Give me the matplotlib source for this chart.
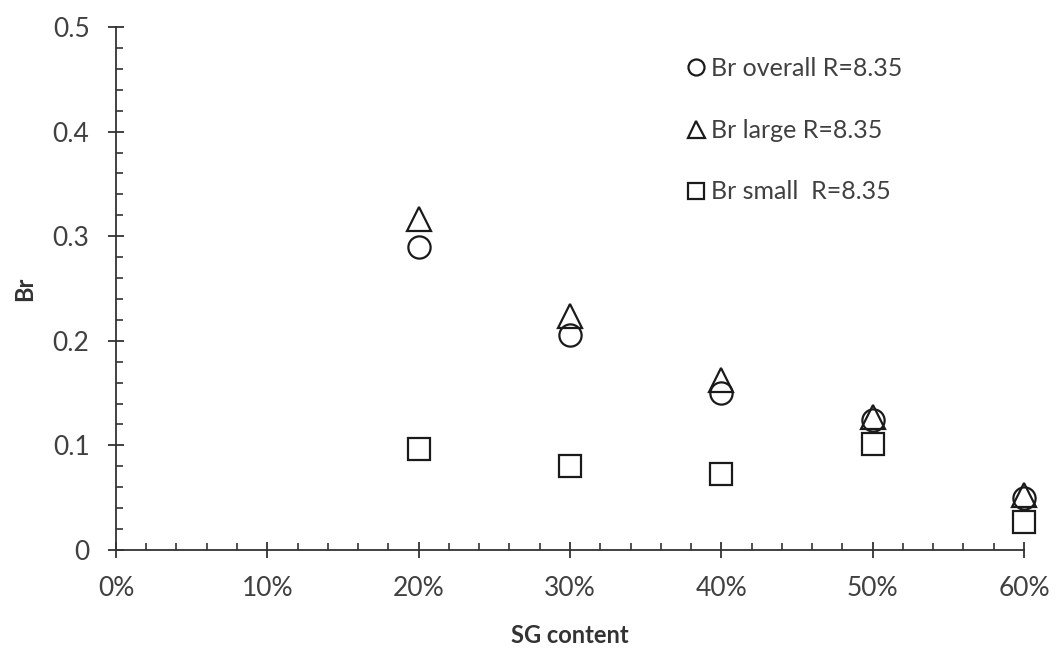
import matplotlib
matplotlib.use("Agg")
import matplotlib.pyplot as plt
from matplotlib.ticker import MultipleLocator, FuncFormatter

plt.rcParams['font.family'] = ['Lato', 'DejaVu Sans']

sg_content = [0.20, 0.30, 0.40, 0.50, 0.60]
br_overall = [0.290, 0.206, 0.150, 0.124, 0.050]
br_large = [0.316, 0.224, 0.163, 0.127, 0.053]
br_small = [0.097, 0.080, 0.073, 0.101, 0.027]
labels = ["Br overall R=8.35", "Br large R=8.35", "Br small  R=8.35"]

fig = plt.figure(figsize=(10.57, 6.5), dpi=100)
ax = fig.add_axes([0.1097, 0.1538, 0.8591, 0.8047])

ec = '#1a1a1a'
kw = dict(linestyle='none', markerfacecolor='none', markeredgecolor=ec, markeredgewidth=1.6,
          clip_on=False)
ax.plot(sg_content, br_large, marker='^', markersize=17, label=labels[1], zorder=3, **kw)
ax.plot(sg_content, br_overall, marker='o', markersize=16, label=labels[0], zorder=4, **kw)
ax.plot(sg_content, br_small, marker='s', markersize=16, label=labels[2], zorder=3, **kw)

ax.set_xlim(0, 0.6)
ax.set_ylim(0, 0.5)
ax.spines['top'].set_visible(False)
ax.spines['right'].set_visible(False)
for s in ['left', 'bottom']:
    ax.spines[s].set_linewidth(1.3)
    ax.spines[s].set_color('#333333')

ax.xaxis.set_major_locator(MultipleLocator(0.1))
ax.xaxis.set_minor_locator(MultipleLocator(0.02))
ax.yaxis.set_major_locator(MultipleLocator(0.1))
ax.yaxis.set_minor_locator(MultipleLocator(0.02))
ax.xaxis.set_major_formatter(FuncFormatter(lambda v, p: f"{round(v*100):d}%"))
ax.yaxis.set_major_formatter(FuncFormatter(lambda v, p: "0" if abs(v) < 1e-9 else f"{v:.1f}"))

ax.tick_params(which='major', direction='inout', length=12, width=1.3, color='#333333',
               labelsize=19, labelcolor='#404040')
ax.tick_params(axis='x', which='major', pad=13)
ax.tick_params(axis='y', which='major', pad=13)
ax.tick_params(which='minor', direction='in', length=5, width=1.2, color='#333333')

ax.set_xlabel("SG content", fontsize=17, fontweight='bold', color='#333333', labelpad=16)
ax.set_ylabel("Br", fontsize=17, fontweight='bold', color='#333333', labelpad=12)

handles, lbls = ax.get_legend_handles_labels()
order = [1, 0, 2]
leg = ax.legend([handles[i] for i in order], [lbls[i] for i in order],
                loc='upper left', bbox_to_anchor=(0.62, 0.962), frameon=False,
                fontsize=18, markerscale=0.72, handlelength=0.6, handletextpad=0.3,
                labelspacing=1.55, borderaxespad=0)
for t in leg.get_texts():
    t.set_color('#404040')

fig.savefig("out.png", dpi=100, facecolor='white')
